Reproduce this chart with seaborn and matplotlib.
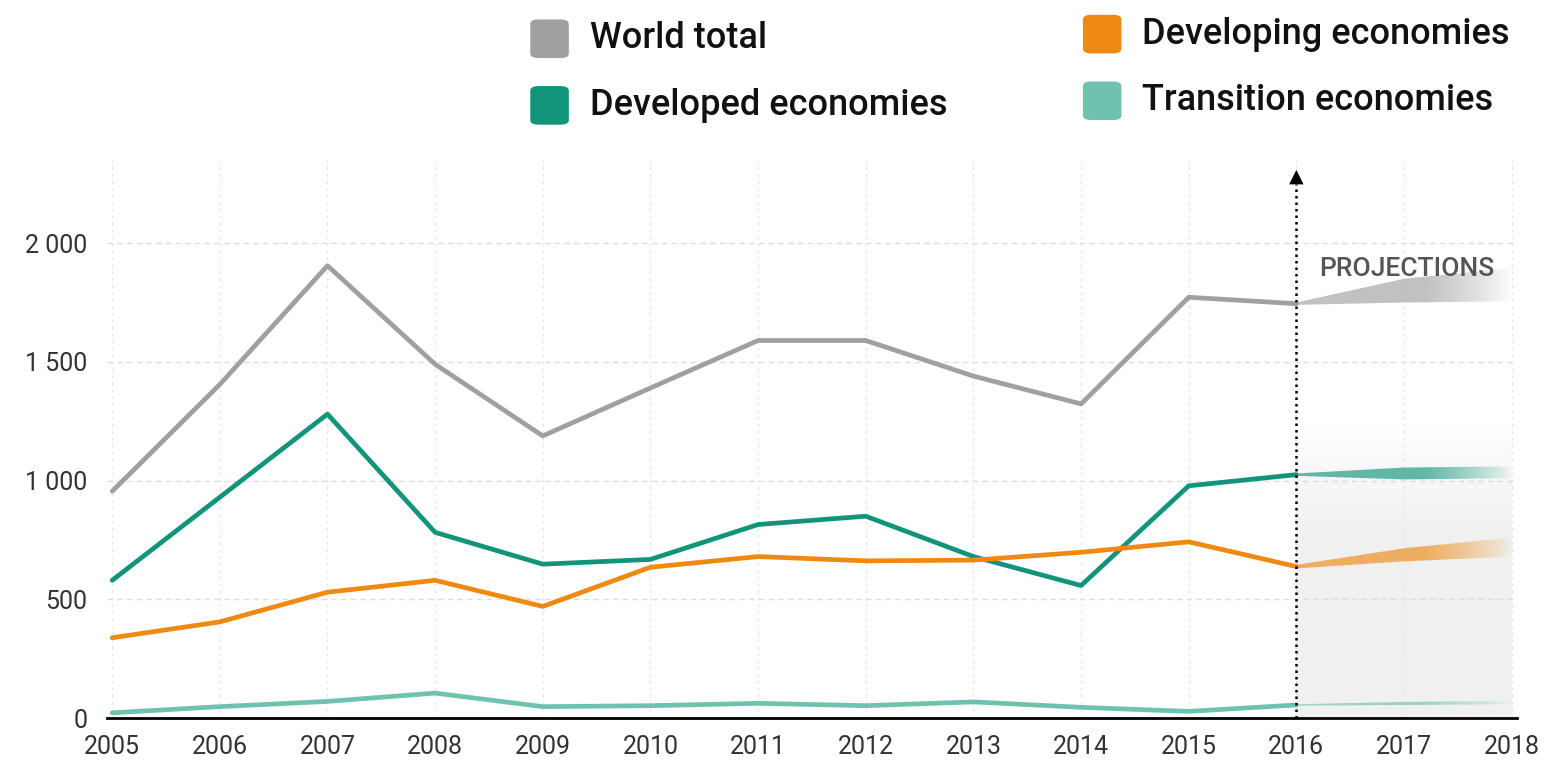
import numpy as np
import pandas as pd
import seaborn as sns
from matplotlib import pyplot as plt
from matplotlib.colors import to_rgb
from matplotlib.patches import FancyBboxPatch

years = list(range(2005, 2017))
world = [955, 1405, 1905, 1490, 1188, 1390, 1590, 1590, 1440, 1323, 1772, 1745]
developed = [580, 930, 1280, 782, 648, 668, 815, 850, 680, 558, 978, 1025]
developing = [338, 405, 530, 580, 470, 635, 680, 662, 665, 698, 742, 638]
transition = [22, 48, 70, 105, 48, 52, 62, 52, 68, 45, 28, 55]

# projection bands 2016-2018 (lower, upper)
proj_years = [2016, 2017, 2018]
world_lo = [1740, 1750, 1755]
world_hi = [1750, 1850, 1895]
developed_lo = [1020, 1005, 1010]
developed_hi = [1030, 1055, 1060]
developing_lo = [630, 660, 680]
developing_hi = [645, 715, 760]
transition_lo = [52, 55, 58]
transition_hi = [58, 68, 72]

names = ["World total", "Developed economies", "Developing economies", "Transition economies"]
colors = ["#a0a0a0", "#10947a", "#ee8a12", "#6fc3ae"]

sns.set_style("white")
plt.rcParams["font.family"] = ["Roboto", "DejaVu Sans"]

df = pd.DataFrame({"year": years * 4,
                   "value": world + developed + developing + transition,
                   "series": sum([[n] * len(years) for n in names], [])})

fig = plt.figure(figsize=(15.48, 7.75), dpi=100)
ax = fig.add_axes([0.069, 0.0735, 0.911, 0.72])
ax.set_xlim(2004.95, 2018.05)
ax.set_ylim(0, 2350)

# grey projection background fading upwards
grad = np.zeros((200, 2, 4))
hy = np.linspace(0, 1300, 200)
grad[..., :3] = 0.5
grad[..., 3] = np.clip((1250 - hy) / 450, 0, 1)[:, None] * 0.11
ax.imshow(grad, extent=[2016, 2018, 0, 1300], origin="lower", aspect="auto", zorder=0,
          interpolation="bilinear")

# grid
for y in [500, 1000, 1500, 2000]:
    ax.axhline(y, color="#dddddd", lw=1, ls=(0, (4, 3)), zorder=0)
for x in range(2005, 2019):
    ax.axvline(x, color="#e6e6e6", lw=1, ls=(0, (2, 3)), zorder=0)

sns.lineplot(data=df, x="year", y="value", hue="series", palette=dict(zip(names, colors)),
             linewidth=3.4, ax=ax, legend=False, zorder=3)

# projection bands, fading towards 2018
bands = [(world_lo, world_hi), (developed_lo, developed_hi),
         (developing_lo, developing_hi), (transition_lo, transition_hi)]
hx = np.linspace(2016, 2018, 300)
fade = np.clip((2018 - hx) / 0.8, 0, 1) ** 0.8
for (lo, hi), c in zip(bands, colors):
    poly = ax.fill_between(proj_years, lo, hi, color="none", lw=0)
    img = np.zeros((2, len(hx), 4))
    img[..., :3] = to_rgb(c)
    img[..., 3] = 0.65 * fade
    im = ax.imshow(img, extent=[2016, 2018, min(lo) - 5, max(hi) + 5], origin="lower",
                   aspect="auto", zorder=2, interpolation="bilinear")
    im.set_clip_path(poly.get_paths()[0], transform=ax.transData)

# dotted arrow at 2016
ax.plot([2016, 2016], [0, 2250], color="black", lw=1.8, ls=(0, (1, 1.6)), zorder=4)
ax.annotate("", xy=(2016, 2320), xytext=(2016, 2240),
            arrowprops=dict(arrowstyle="-|>", color="black", lw=0, mutation_scale=26), zorder=4)
ax.text(2017.03, 1890, "PROJECTIONS", fontsize=19, color="#555555", ha="center", va="center",
        fontweight="medium")

sns.despine(ax=ax, left=True, top=True, right=True)
ax.spines["bottom"].set_linewidth(2)
ax.spines["bottom"].set_color("black")
ax.set_xticks(range(2005, 2019))
ax.set_xticklabels([str(y) for y in range(2005, 2019)])
ax.set_yticks([0, 500, 1000, 1500, 2000])
ax.set_yticklabels(["0", "500", "1 000", "1 500", "2 000"])
ax.tick_params(axis="both", length=0, labelsize=18, colors="#333333")
ax.tick_params(axis="x", pad=12)
ax.tick_params(axis="y", pad=14)
ax.set_xlabel("")
ax.set_ylabel("")

# legend at top
legend_pos = [(0.343, 0.950), (0.343, 0.864), (0.700, 0.956), (0.700, 0.870)]
for (x, y), n, c in zip(legend_pos, names, colors):
    fig.patches.append(FancyBboxPatch((x, y - 0.024), 0.024, 0.048, boxstyle="round,pad=0,rounding_size=0.005",
                                      transform=fig.transFigure, color=c, figure=fig))
    fig.text(x + 0.038, y, n, fontsize=26, ha="left", va="center", color="#111111", fontweight="medium")

fig.savefig("out.png", dpi=100)
